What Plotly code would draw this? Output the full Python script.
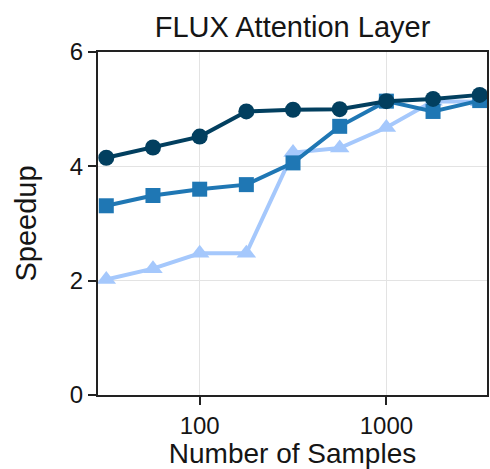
import plotly.graph_objects as go

samples = [31.6, 56.2, 100, 177.8, 316.2, 562.3, 1000, 1778.3, 3162.3]
speedup_a = [4.15, 4.33, 4.52, 4.96, 4.99, 5.00, 5.14, 5.18, 5.25]
speedup_b = [3.31, 3.49, 3.60, 3.68, 4.06, 4.70, 5.14, 4.96, 5.15]
speedup_c = [2.02, 2.21, 2.48, 2.48, 4.24, 4.32, 4.68, 5.14, 5.13]

series = [
    (speedup_c, "#a5c8fc", "triangle-up", 17),
    (speedup_b, "#1f77b4", "square", 15),
    (speedup_a, "#023f5f", "circle", 16),
]

FONT = "Liberation Sans, Arial, sans-serif"

fig = go.Figure()
for vals, color, sym, size in series:
    fig.add_trace(go.Scatter(
        x=samples, y=vals, mode="lines+markers",
        line=dict(color=color, width=4),
        marker=dict(symbol=sym, size=size, color=color, line=dict(width=0)),
        showlegend=False,
    ))

fig.update_layout(
    width=490, height=469,
    margin=dict(l=98, r=3, t=52, b=74, autoexpand=False),
    paper_bgcolor="white", plot_bgcolor="white",
    font=dict(family=FONT, color="#151515", size=24),
    title=dict(text="FLUX Attention Layer", x=0.5, xref="paper",
               y=1 - 27 / 469, yref="container", yanchor="middle",
               font=dict(size=29, family=FONT, color="#151515")),
)
fig.update_xaxes(
    type="log", range=[1.4553, 3.539], automargin=False,
    tickvals=[100, 1000], ticktext=["100", "1000"],
    ticks="outside", ticklen=8, tickwidth=2, tickcolor="#222",
    showline=True, linecolor="#222", linewidth=2, mirror=True,
    showgrid=True, gridcolor="#e3e3e3", gridwidth=1,
    tickfont=dict(size=24),
    title=dict(text="Number of Samples", font=dict(size=28), standoff=3),
)
fig.update_yaxes(
    range=[0, 6], tickvals=[0, 2, 4, 6], automargin=False,
    ticks="outside", ticklen=8, tickwidth=2, tickcolor="#222",
    showline=True, linecolor="#222", linewidth=2, mirror=True,
    showgrid=True, gridcolor="#e3e3e3", gridwidth=1,
    zeroline=False,
    tickfont=dict(size=24),
    title=dict(text="Speedup", font=dict(size=29), standoff=25),
)

fig.write_html(
    "out.html",
    config={"displayModeBar": False},
    post_script="document.body.style.margin='0px';document.body.style.overflow='hidden';",
)
